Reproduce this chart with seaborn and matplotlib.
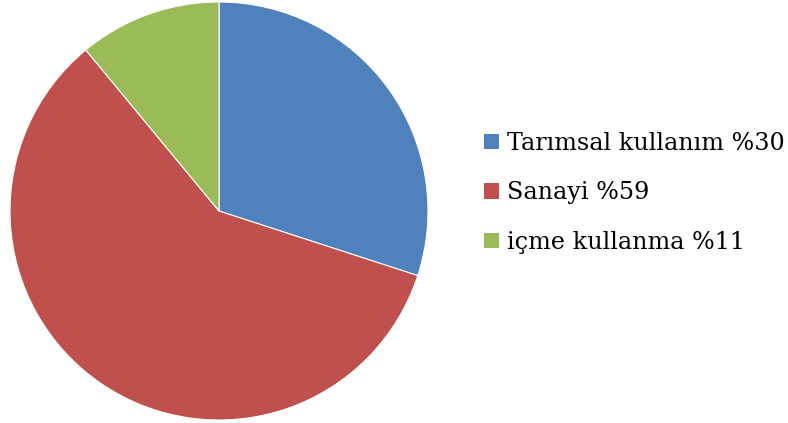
import matplotlib
matplotlib.use("Agg")
import matplotlib.pyplot as plt
import seaborn as sns
from matplotlib.patches import Patch

# data
labels = ["Tarımsal kullanım %30", "Sanayi %59", "içme kullanma %11"]
values = [30, 59, 11]
colors = ["#4F81BD", "#C0504D", "#9BBB59"]

sns.set_style("white")
plt.rcParams["font.family"] = ["DejaVu Serif"]

fig = plt.figure(figsize=(7.88, 4.23), dpi=100)
ax = fig.add_axes([10 / 788, 3 / 423, 418 / 788, 418 / 423])

ax.pie(values, colors=colors, startangle=90, counterclock=False,
       radius=1.0, wedgeprops=dict(edgecolor="white", linewidth=0.8))
ax.set_xlim(-1, 1)
ax.set_ylim(-1, 1)
ax.set_aspect("equal")
ax.axis("off")

handles = [Patch(facecolor=c, edgecolor="none") for c in colors]
leg = fig.legend(handles, labels, loc="center left",
                 bbox_to_anchor=(463 / 788, (423 - 193) / 423),
                 frameon=False, fontsize=17.2, handlelength=0.6, handleheight=0.6,
                 handletextpad=0.35, labelspacing=1.1)
for t in leg.get_texts():
    t.set_color("black")

fig.savefig("out.png", dpi=100)
